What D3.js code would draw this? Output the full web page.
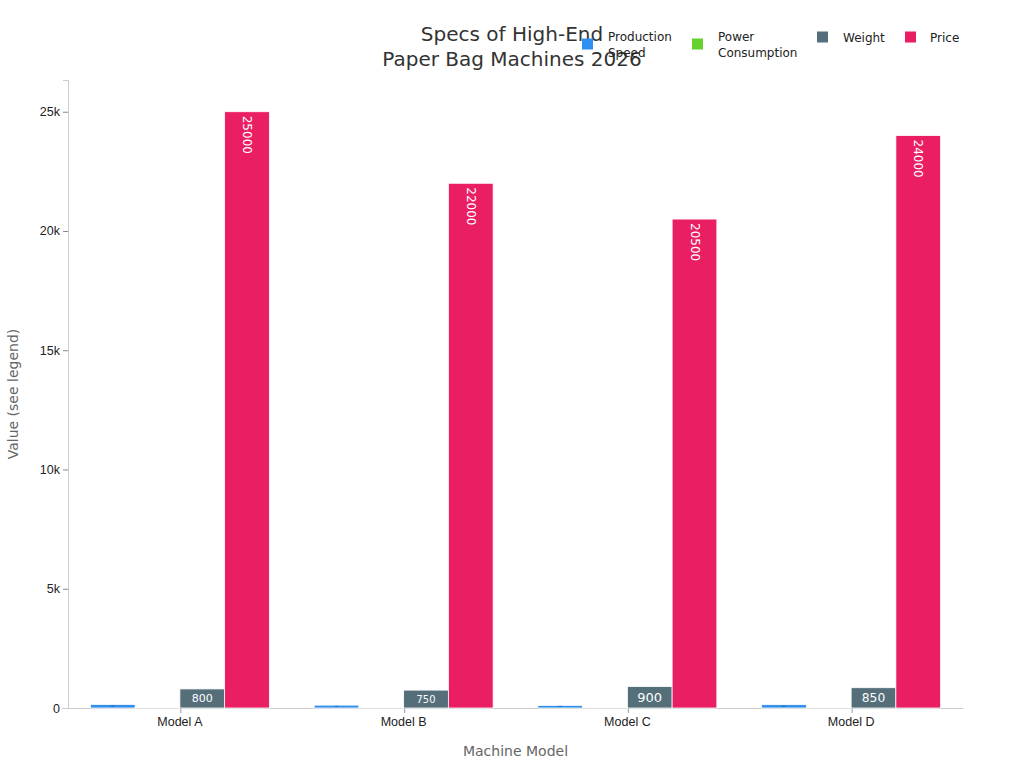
<!DOCTYPE html>
<html>
<head>
<meta charset="utf-8">
<script src="https://cdn.jsdelivr.net/npm/d3@7"></script>
<style>
  body { margin: 0; background: #fff; }
  svg { font-family: "DejaVu Sans", sans-serif; }
</style>
</head>
<body>
<svg id="chart" width="1024" height="768"></svg>
<script>
// ==================================
// DATA
// ==================================
const models = ["Model A", "Model B", "Model C", "Model D"];
const seriesNames = ["Production Speed", "Power Consumption", "Weight", "Price"];
const productionSpeed = [150, 120, 110, 140];
const powerConsumption = [30, 25, 35, 32];
const weight = [800, 750, 900, 850];
const price = [25000, 22000, 20500, 24000];
const yTicks = [0, 5000, 10000, 15000, 20000, 25000];
const yTickLabels = ["0", "5k", "10k", "15k", "20k", "25k"];

const seriesValues = [productionSpeed, powerConsumption, weight, price];
const colors = ["#2f8ff0", "#66d12c", "#546e7a", "#e91e63"];

// ==================================
// LAYOUT
// ==================================
const W = 1024, H = 768;
const margin = { top: 80, right: 61, bottom: 60, left: 68 };
const plotW = W - margin.left - margin.right;
const plotH = H - margin.top - margin.bottom;

const svg = d3.select("#chart");
const g = svg.append("g").attr("transform", `translate(${margin.left},${margin.top})`);

const x0 = d3.scaleBand().domain(models).range([0, plotW]).paddingInner(0.2).paddingOuter(0.1);
const x1 = d3.scaleBand().domain(seriesNames).range([0, x0.bandwidth()]);
const y = d3.scaleLinear().domain([0, 26330]).range([plotH, 0]);

// y axis
const yAxis = g.append("g")
    .call(d3.axisLeft(y).tickValues(yTicks).tickFormat((d, i) => yTickLabels[i]).tickSize(5).tickPadding(3));
yAxis.select(".domain").attr("stroke", "#ccc");
yAxis.selectAll(".tick line").attr("stroke", "#888");
yAxis.selectAll("text").attr("fill", "#222").style("font-size", "12.5px");

// x axis
const xAxis = g.append("g")
    .attr("transform", `translate(0,${plotH})`)
    .call(d3.axisBottom(x0).tickSize(5).tickPadding(4).tickSizeOuter(0));
xAxis.select(".domain").attr("stroke", "#ccc").attr("d", `M-6,0.5H${plotW}`);
xAxis.selectAll(".tick line").attr("stroke", "#999").attr("transform", "translate(1,0)");
xAxis.selectAll("text").attr("fill", "#222").style("font-size", "12.5px");

// bars
const rows = [];
models.forEach((m, i) => {
    seriesNames.forEach((s, j) => {
        rows.push({ model: m, series: s, idx: j, value: seriesValues[j][i] });
    });
});

const bars = g.selectAll("g.bar")
    .data(rows)
    .enter()
    .append("g")
    .attr("class", "bar");

bars.append("rect")
    .attr("x", d => x0(d.model) + x1(d.series))
    .attr("y", d => y(d.value))
    .attr("width", x1.bandwidth())
    .attr("height", d => plotH - y(d.value))
    .attr("fill", d => colors[d.idx])
    .attr("stroke", "#fff")
    .attr("stroke-width", 0.8);

// labels inside bars
bars.each(function(d) {
    const sel = d3.select(this);
    const cx = x0(d.model) + x1(d.series) + x1.bandwidth() / 2;
    const h = plotH - y(d.value);
    if (d.series === "Price") {
        sel.append("text")
            .attr("transform", `translate(${cx - 4},${y(d.value) + 4}) rotate(90)`)
            .attr("fill", "#fff")
            .style("font-size", "12px")
            .text(d.value);
    } else if (d.series === "Weight") {
        const fs = Math.min(13, h - 8);
        sel.append("text")
            .attr("x", cx)
            .attr("y", y(d.value) + h / 2)
            .attr("dy", "0.36em")
            .attr("text-anchor", "middle")
            .attr("fill", "#fff")
            .style("font-size", fs + "px")
            .text(d.value);
    } else if (d.series === "Production Speed") {
        sel.append("text")
            .attr("x", cx)
            .attr("y", y(d.value) + h / 2)
            .attr("dy", "0.36em")
            .attr("text-anchor", "middle")
            .attr("fill", "#333")
            .style("font-size", "2px")
            .text(d.value);
    }
});

// axis titles
svg.append("text")
    .attr("x", margin.left + plotW / 2)
    .attr("y", 756)
    .attr("text-anchor", "middle")
    .attr("fill", "#666")
    .style("font-size", "14px")
    .text("Machine Model");

svg.append("text")
    .attr("transform", `translate(18,${margin.top + plotH / 2}) rotate(-90)`)
    .attr("text-anchor", "middle")
    .attr("fill", "#666")
    .style("font-size", "14px")
    .text("Value (see legend)");

// title
const title = svg.append("text")
    .attr("x", 512)
    .attr("text-anchor", "middle")
    .attr("fill", "#333")
    .style("font-size", "20px");
title.append("tspan").attr("x", 512).attr("y", 41).text("Specs of High-End");
title.append("tspan").attr("x", 512).attr("y", 66).text("Paper Bag Machines 2026");

// ==================================
// LEGEND
// ==================================
const legendItems = [
    { lines: ["Production", "Speed"], mx: 582, tx: 608 },
    { lines: ["Power", "Consumption"], mx: 692, tx: 718 },
    { lines: ["Weight"], mx: 817, tx: 843 },
    { lines: ["Price"], mx: 905, tx: 930 }
];
legendItems.forEach((item, i) => {
    const two = item.lines.length > 1;
    const cy = two ? 44 : 37;
    svg.append("rect")
        .attr("x", item.mx)
        .attr("y", cy - 5.5)
        .attr("width", 11)
        .attr("height", 11)
        .attr("fill", colors[i]);
    const t = svg.append("text")
        .attr("fill", "#222")
        .style("font-size", "12px");
    item.lines.forEach((ln, k) => {
        t.append("tspan")
            .attr("x", item.tx)
            .attr("y", (two ? 41 + k * 16 : 42))
            .text(ln);
    });
});
</script>
</body>
</html>
